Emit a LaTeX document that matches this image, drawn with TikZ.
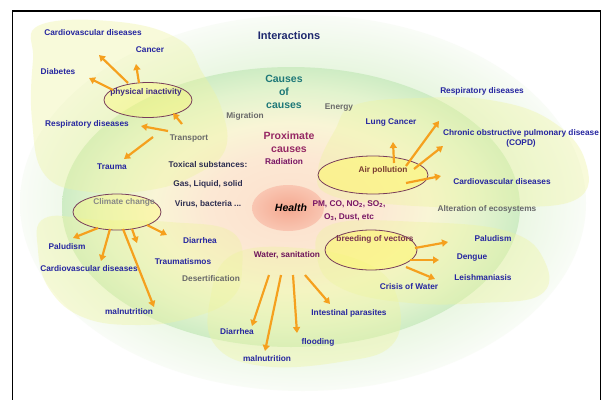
\documentclass[tikz,border=0pt]{standalone}
\usepackage{fontspec}
\setmainfont{Liberation Sans}
\usetikzlibrary{arrows.meta,shapes.geometric}
\definecolor{og1}{RGB}{222,242,210}
\definecolor{og2}{RGB}{232,246,224}
\definecolor{og3}{RGB}{249,252,247}
\definecolor{mg0}{RGB}{252,224,204}
\definecolor{mg1}{RGB}{252,232,212}
\definecolor{mg2}{RGB}{249,245,214}
\definecolor{mg3}{RGB}{226,243,206}
\definecolor{mg4}{RGB}{206,236,196}
\definecolor{hs1}{RGB}{244,168,144}
\definecolor{hs2}{RGB}{249,198,178}
\definecolor{blobc}{RGB}{238,244,160}
\definecolor{lblue}{RGB}{38,38,160}
\definecolor{navy}{RGB}{30,40,110}
\definecolor{tealc}{RGB}{30,120,120}
\definecolor{magc}{RGB}{150,40,100}
\definecolor{purc}{RGB}{120,20,100}
\definecolor{watc}{RGB}{110,20,90}
\definecolor{brdc}{RGB}{120,50,80}
\definecolor{airc}{RGB}{120,60,50}
\definecolor{phyc}{RGB}{60,40,130}
\definecolor{grayc}{RGB}{105,105,105}
\definecolor{lgrayc}{RGB}{135,135,135}
\definecolor{darkc}{RGB}{45,45,80}
\definecolor{ellc}{RGB}{120,60,90}
\definecolor{arrc}{RGB}{245,160,30}
\pgfdeclareradialshading{outershade}{\pgfpoint{0bp}{0bp}}{color(0bp)=(og1); color(18bp)=(og2); color(25bp)=(og3); color(50bp)=(og3)}
\pgfdeclareradialshading{midshade}{\pgfpoint{0bp}{0bp}}{color(0bp)=(mg0); color(9bp)=(mg1); color(15bp)=(mg2); color(21bp)=(mg3); color(25bp)=(mg4); color(50bp)=(mg4)}
\pgfdeclareradialshading{healthshade}{\pgfpoint{0bp}{0bp}}{color(0bp)=(hs1); color(25bp)=(hs2); color(50bp)=(hs2)}
\tikzset{
  lbl/.style={font=\bfseries\fontsize{8.3}{9.5}\selectfont, text=lblue, inner sep=0pt},
  big/.style={font=\bfseries\fontsize{10.5}{13}\selectfont, inner sep=0pt, align=center},
  arr/.style={draw=arrc, line width=2.2pt, -{Triangle[length=6pt,width=7pt]}},
  blob/.style={fill=blobc, fill opacity=0.38},
  ring/.style={fill=yellow!60!white, fill opacity=0.35},
  ringline/.style={draw=ellc, line width=0.8pt, ellipse, inner sep=0pt}
}
\begin{document}
\begin{tikzpicture}[x=1pt,y=-1pt]
\useasboundingbox (0,0) rectangle (607,399);
\clip (0,0) rectangle (607,399);
\fill[white] (0,0) rectangle (607,399);
% background rings
\shade[shading=outershade] (303,203) ellipse [x radius=283, y radius=188];
\shade[shading=midshade] (291,207) ellipse [x radius=229, y radius=140];
% blobs
\fill[blob] plot[smooth cycle, tension=0.7] coordinates {(40,25) (120,22) (180,40) (202,72) (222,110) (225,150) (195,175) (150,190) (90,192) (45,175) (32,120) (33,60)};
\fill[blob] plot[smooth cycle, tension=0.7] coordinates {(355,105) (420,98) (490,100) (550,120) (585,160) (575,200) (490,207) (400,205) (330,195) (318,170) (335,130)};
\fill[blob] plot[smooth cycle, tension=0.7] coordinates {(45,218) (100,220) (170,222) (232,232) (242,270) (230,300) (190,318) (140,325) (85,318) (50,290) (38,250)};
\fill[blob] plot[smooth cycle, tension=0.7] coordinates {(232,255) (300,248) (370,265) (398,300) (392,345) (340,362) (262,366) (215,345) (210,300)};
\fill[blob] plot[smooth cycle, tension=0.7] coordinates {(330,225) (420,222) (510,232) (545,262) (540,295) (480,303) (410,303) (345,290) (318,262)};
% factor ellipses
\path[ring] (148,100) ellipse [x radius=44, y radius=17.5];
\path[ring, fill opacity=0.5] (373,175) ellipse [x radius=55, y radius=19];
\path[ring] (117,212) ellipse [x radius=44, y radius=18];
\path[ring, fill opacity=0.5] (371,250) ellipse [x radius=46, y radius=20];
\node[ringline, minimum width=88pt, minimum height=35pt] (ephys) at (148,100) {};
\node[ringline, minimum width=110pt, minimum height=38pt] (eair) at (373,175) {};
\node[ringline, minimum width=88pt, minimum height=36pt] (eclim) at (117,212) {};
\node[ringline, minimum width=92pt, minimum height=40pt] (ebreed) at (371,250) {};
% health
\shade[shading=healthshade] (288,208) ellipse [x radius=36, y radius=23];
\node[font=\bfseries\itshape\fontsize{10.5}{12}\selectfont, inner sep=0pt] (health) at (291,208) {Health};
% central labels
\node[big, text=navy, font=\bfseries\fontsize{11}{13}\selectfont] (inter) at (289,36) {Interactions};
\node[big, text=tealc] (coc) at (284,92) {Causes\\of\\causes};
\node[big, text=magc] (prox) at (289,142.5) {Proximate\\causes};
\node[lbl, text=purc] (rad) at (284,162) {Radiation};
\node[lbl, text=purc] (pm1) at (349,204) {PM, CO, NO\textsubscript{2}, SO\textsubscript{2},};
\node[lbl, text=purc] (pm2) at (349,217) {O\textsubscript{3}, Dust, etc};
\node[lbl, text=grayc] (migr) at (245,116) {Migration};
\node[lbl, text=grayc] (energy) at (339,108) {Energy};
\node[lbl, text=grayc] (transp) at (189,139) {Transport};
\node[lbl, text=darkc] (toxic) at (208,165) {Toxical substances:};
\node[lbl, text=darkc] (gas) at (208,184) {Gas, Liquid, solid};
\node[lbl, text=darkc] (virus) at (208,204) {Virus, bacteria ...};
\node[lbl, text=grayc] (desert) at (211,279) {Desertification};
\node[lbl, text=grayc] (alter) at (487,209) {Alteration of ecosystems};
% factor labels
\node[lbl, text=phyc] (phys) at (146,92) {physical inactivity};
\node[lbl, text=airc] (air) at (383,170) {Air pollution};
\node[lbl, text=lgrayc] (clim) at (124,202) {Climate change};
\node[lbl, text=brdc] (breed) at (375,239) {breeding of vectors};
\node[lbl, text=watc] (water) at (287,255) {Water, sanitation};
% outcome labels
\node[lbl] (cvd1) at (93,33) {Cardiovascular diseases};
\node[lbl] (cancer) at (150,50) {Cancer};
\node[lbl] (diab) at (58,72) {Diabetes};
\node[lbl] (resp1) at (87,124) {Respiratory diseases};
\node[lbl] (trauma) at (112,167) {Trauma};
\node[lbl] (lung) at (391,122) {Lung Cancer};
\node[lbl] (resp2) at (482,91) {Respiratory diseases};
\node[lbl, align=center] (copd) at (521,138.5) {Chronic obstructive pulmonary disease\\(COPD)};
\node[lbl] (cvd2) at (502,182) {Cardiovascular diseases};
\node[lbl] (palu1) at (493,239) {Paludism};
\node[lbl] (dengue) at (472,258) {Dengue};
\node[lbl] (leish) at (483,278) {Leishmaniasis};
\node[lbl] (crisis) at (409,287) {Crisis of Water};
\node[lbl] (intest) at (349,313) {Intestinal parasites};
\node[lbl] (flood) at (318,342) {flooding};
\node[lbl] (diar2) at (237,332) {Diarrhea};
\node[lbl] (maln2) at (267,359) {malnutrition};
\node[lbl] (diar1) at (200,241) {Diarrhea};
\node[lbl] (traum2) at (183,262) {Traumatismos};
\node[lbl] (palu2) at (67,247) {Paludism};
\node[lbl] (cvd3) at (89,269) {Cardiovascular diseases};
\node[lbl] (maln1) at (129,312) {malnutrition};
% arrow coordinates
\coordinate (p1s) at (128,83);  \coordinate (p1e) at (99,55);
\coordinate (p2s) at (139,83);  \coordinate (p2e) at (136,64);
\coordinate (p3s) at (113,90);  \coordinate (p3e) at (89,78);
\coordinate (t1s) at (182,124); \coordinate (t1e) at (173,113);
\coordinate (t2s) at (168,131); \coordinate (t2e) at (141,126);
\coordinate (t3s) at (153,137); \coordinate (t3e) at (124,159);
\coordinate (a1s) at (394,163); \coordinate (a1e) at (393,142);
\coordinate (a2s) at (406,166); \coordinate (a2e) at (439,121);
\coordinate (a3s) at (414,169); \coordinate (a3e) at (443,146);
\coordinate (a4s) at (406,183); \coordinate (a4e) at (441,176);
\coordinate (c1s) at (98,228);  \coordinate (c1e) at (73,238);
\coordinate (c2s) at (110,229); \coordinate (c2e) at (101,261);
\coordinate (c3s) at (123,229); \coordinate (c3e) at (154,307);
\coordinate (c4s) at (132,229); \coordinate (c4e) at (137,243);
\coordinate (c5s) at (147,225); \coordinate (c5e) at (167,235);
\coordinate (w1s) at (269,275); \coordinate (w1e) at (252,326);
\coordinate (w2s) at (281,275); \coordinate (w2e) at (265,351);
\coordinate (w3s) at (293,275); \coordinate (w3e) at (297,333);
\coordinate (w4s) at (305,275); \coordinate (w4e) at (330,304);
\coordinate (b1s) at (415,248); \coordinate (b1e) at (448,242);
\coordinate (b2s) at (410,260); \coordinate (b2e) at (439,260);
\coordinate (b3s) at (406,267); \coordinate (b3e) at (435,279);
\foreach \a in {p1,p2,p3,t1,t2,t3,a1,a2,a3,a4,c1,c2,c3,c4,c5,w1,w2,w3,w4,b1,b2,b3}
  \draw[arr] (\a s) -- (\a e);
% frame
\draw[black, line width=1.6pt] (12.5,11) rectangle (600.5,420);
\end{tikzpicture}
\end{document}
